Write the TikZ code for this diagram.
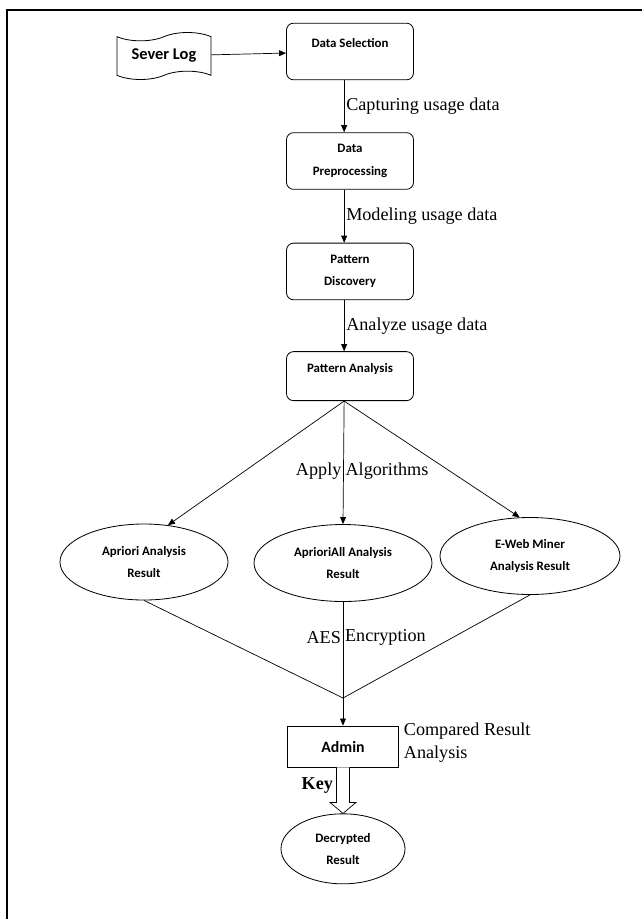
\documentclass[tikz,border=0pt]{standalone}
\usepackage{fontspec}
\setmainfont{Liberation Serif}
\newfontfamily\boxfont{Carlito}
\usepackage{tikz}
\usetikzlibrary{shapes.geometric, shapes.symbols, arrows.meta, positioning, calc}

\begin{document}
\begin{tikzpicture}[
  x=0.03cm, y=-0.03cm,
  stepbox/.style={rectangle, rounded corners=6pt, draw=black, line width=0.7pt,
                  minimum width=3.81cm, minimum height=1.7cm, align=center,
                  font=\boxfont\bfseries\fontsize{11}{19}\selectfont},
  onerow/.style={text depth=0.52cm},
  tapebox/.style={tape, draw=black, line width=0.7pt, minimum width=2.82cm,
                  minimum height=1.41cm, tape bend height=0.25cm,
                  font=\boxfont\bfseries\fontsize{14}{16}\selectfont},
  oval/.style={ellipse, draw=black, line width=0.7pt, align=center, inner sep=0pt,
               font=\boxfont\bfseries\fontsize{11}{19}\selectfont},
  adminbox/.style={rectangle, draw=black, line width=0.7pt, minimum width=3.33cm,
                   minimum height=1.23cm, font=\boxfont\bfseries\fontsize{13.5}{16}\selectfont},
  note/.style={font=\fontsize{15.5}{20}\selectfont, inner sep=1.5pt},
  arrow/.style={-{Triangle[length=6pt, width=5pt]}, draw=black, line width=0.6pt},
  line/.style={draw=black, line width=0.6pt},
  hollow/.style={draw=black, line width=0.6pt, fill=white},
]

% frame
\useasboundingbox (0,0) rectangle (642,919);
\draw[line width=1.2pt] (642,10) -- (7,10) -- (7,919);

% upper column
\node[tapebox] (log) at (164,56) {Sever Log};
\node[stepbox, onerow] (sel) at (350,51.5) {Data Selection};
\node[stepbox, below=1.56cm of sel] (pre) {Data\\Preprocessing};
\node[stepbox, below=1.59cm of pre] (dis) {Pattern\\Discovery};
\node[stepbox, onerow, minimum height=1.47cm, below=1.53cm of dis] (ana) {Pattern Analysis};

% results
\node[oval, minimum width=5.04cm, minimum height=2.28cm] (apr) at (144,562) {Apriori Analysis\\Result};
\node[oval, minimum width=5.34cm, minimum height=2.31cm] (all) at (343,563) {AprioriAll Analysis\\Result};
\node[oval, minimum width=5.4cm, minimum height=2.31cm] (web) at (530,556) {E-Web Miner\\Analysis Result};

\coordinate (join) at (343,698);
\node[adminbox] (adm) at (343,746.5) {Admin};
\node[oval, minimum width=3.72cm, minimum height=2.1cm, below=1.38cm of adm] (dec) {Decrypted\\Result};

\node[note, anchor=north west, align=left] (cmp) at ($(adm.north east)+(3,-5)$) {Compared Result\\Analysis};

% connectors
\draw[arrow] (log) -- (sel);
\draw[arrow] ([xshift=-5pt]sel.south) -- node[note, right] {Capturing usage data} ([xshift=-5pt]pre.north);
\draw[arrow] ([xshift=-5pt]pre.south) -- node[note, right] {Modeling usage data} ([xshift=-5pt]dis.north);
\draw[arrow] ([xshift=-5pt]dis.south) -- node[note, right] {Analyze usage data} ([xshift=-5pt]ana.north);

\draw[arrow] ([xshift=-5pt]ana.south) -- (apr.57);
\draw[arrow] ([xshift=-5pt]ana.south) -- node[note, pos=0.57, left] {Apply} node[note, pos=0.57, right] {Algorithms} (all.north);
\draw[arrow] ([xshift=-5pt]ana.south) -- (web.105);

\draw[line] (apr.south) -- (join);
\draw[line] (web.south) -- (join);
\draw[arrow] (all.south) -- node[note, pos=0.29, left] {AES} node[note, pos=0.29, right] {Encryption} (adm.north);

% key arrow
\draw[hollow] ($(adm.south)+(-6.5,0)$) -- ($(dec.north)+(-6.5,-11)$) -- ($(dec.north)+(-13,-11)$)
  -- (dec.north) -- ($(dec.north)+(13,-11)$) -- ($(dec.north)+(6.5,-11)$) -- ($(adm.south)+(6.5,0)$);
\node[note, font=\bfseries\fontsize{15.5}{20}\selectfont, anchor=east] (key) at ($(adm.south)+(-8,18)$) {Key};

\end{tikzpicture}
\end{document}
